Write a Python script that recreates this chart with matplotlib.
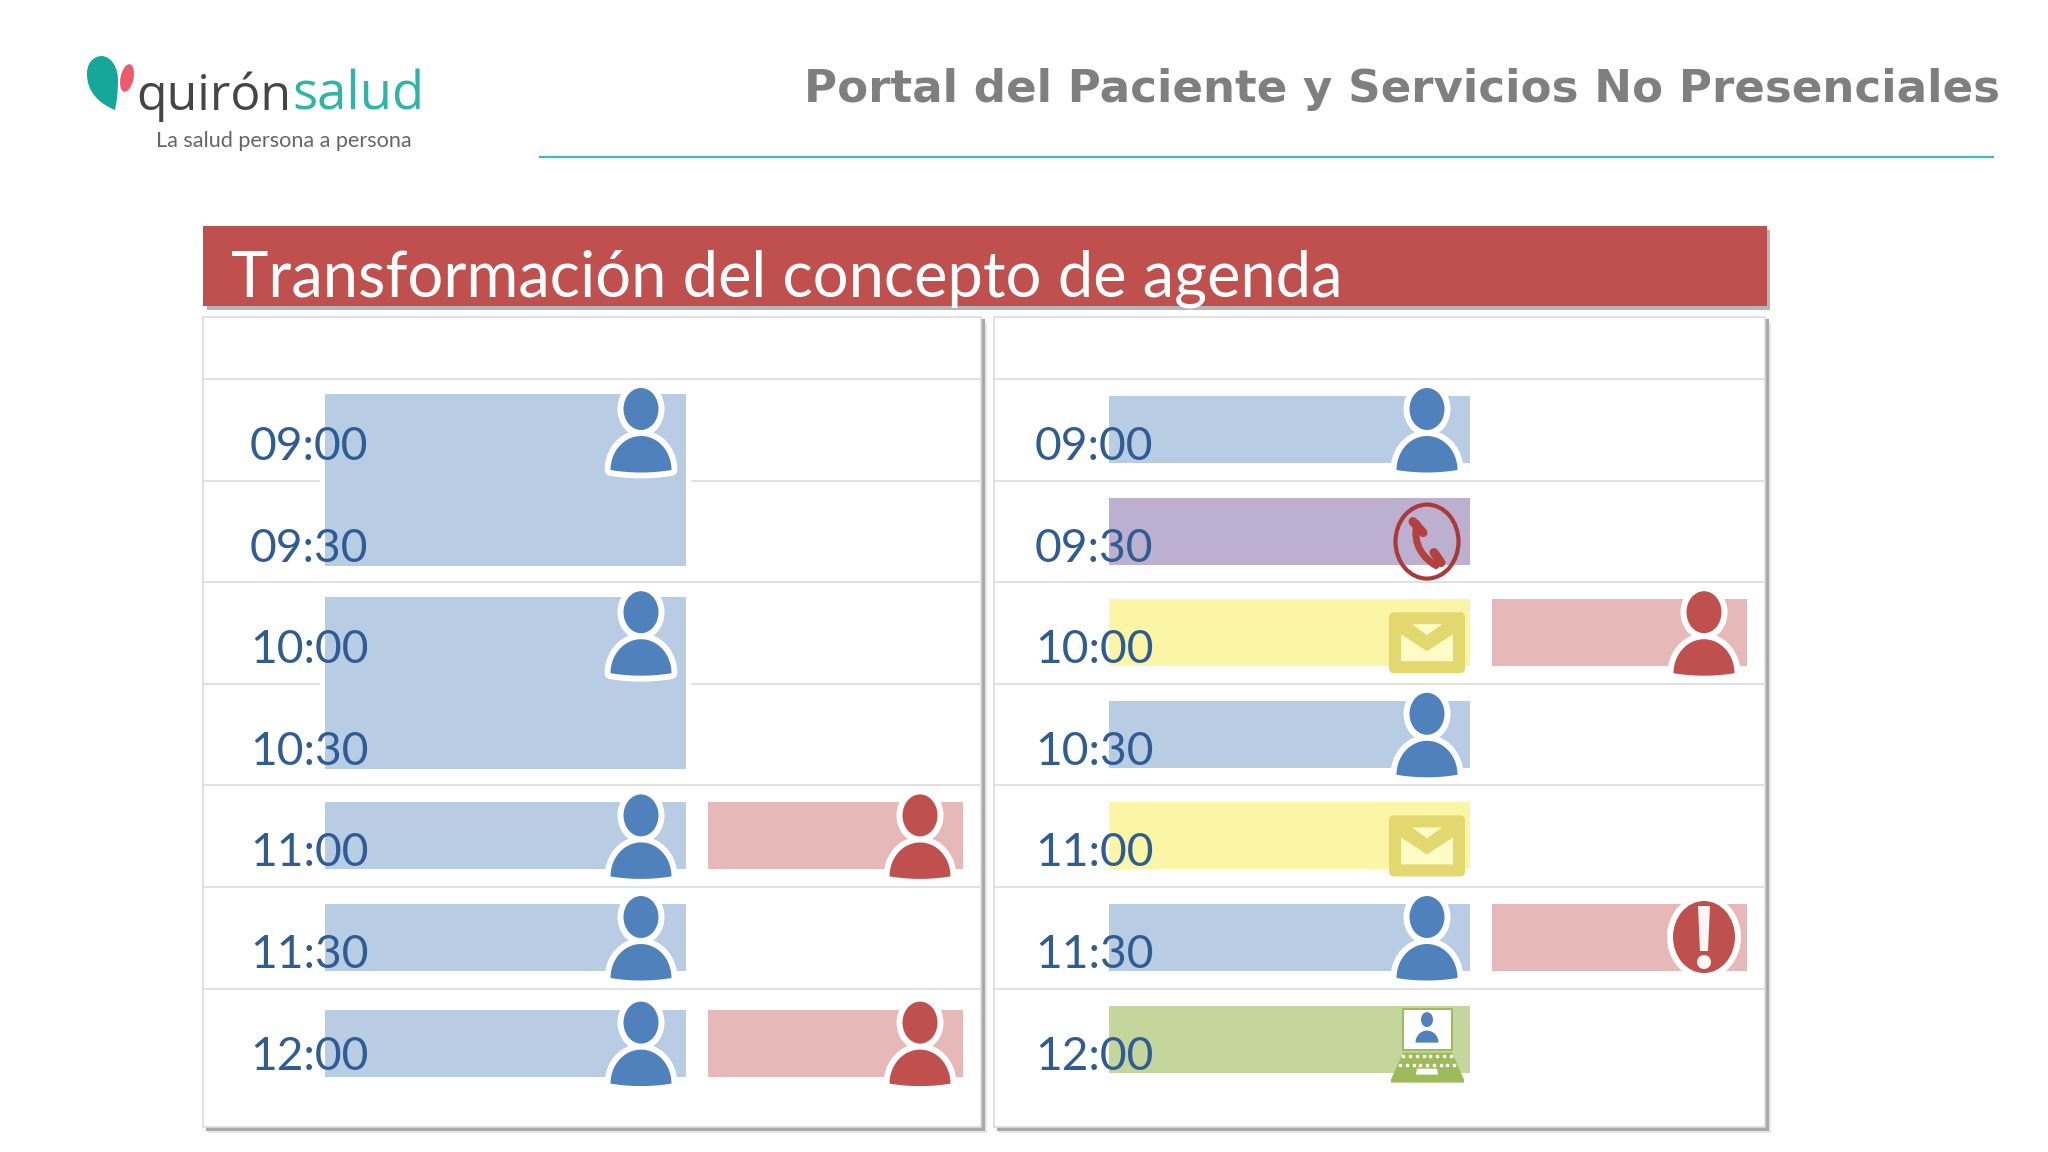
#!/usr/bin/env python3

import matplotlib
matplotlib.use('Agg')
import matplotlib.pyplot as plt
import numpy as np
from matplotlib.patches import Ellipse, FancyBboxPatch, PathPatch, Polygon, Rectangle
from matplotlib.path import Path

times = ['09:00', '09:30', '10:00', '10:30', '11:00', '11:30', '12:00']

# left agenda: long visits take two slots
left_main_start = [0, 2, 4, 5, 6]
left_main_len = [2, 2, 1, 1, 1]
left_extra_slots = [4, 6]

# right agenda: one slot each, by channel
right_main_slots = [0, 1, 2, 3, 4, 5, 6]
right_main_kinds = ['person', 'phone', 'mail', 'person', 'mail', 'person', 'video']
right_extra_slots = [2, 5]
right_extra_kinds = ['person', 'alert']

BLUE = '#4f81bd'
RED = '#c0504d'
bar_colors = {'person': '#b8cce4', 'phone': '#bcafd0', 'mail': '#fbf5a6', 'video': '#c5d69c'}
RED_BAR = '#e6b8b7'
GRID = '#dcdcdc'
SHADOW = '#a8a8a8'

ROW0 = 379
ROW_H = 101.6
BAR_OFF = 17
BAR_H = 67

fig = plt.figure(figsize=(20.48, 11.52), dpi=100)
ax = fig.add_axes([0, 0, 1, 1])
ax.set_xlim(0, 2048)
ax.set_ylim(1152, 0)
ax.axis('off')


def row_top(slot):
    return ROW0 + ROW_H * slot


def draw_panel(x0, x1, time_x):
    top, bottom = 317, 1127
    ax.add_patch(Rectangle((x0 + 5, top + 5), x1 - x0 + 1, bottom - top + 1, color='#e6e6e6', lw=0, zorder=0.5))
    ax.add_patch(Rectangle((x0 + 3, top + 2), x1 - x0 + 1, bottom - top + 2, color=SHADOW, lw=0, zorder=0.6))
    ax.add_patch(Rectangle((x0, top), x1 - x0, bottom - top, facecolor='white', edgecolor=GRID, lw=1.2, zorder=0.7))
    for i in range(len(times)):
        y = row_top(i)
        ax.plot([x0, x1], [y, y], color=GRID, lw=1.2, zorder=1)
        ax.text(time_x, y + 81, times[i], family='Lato', fontsize=33.2, color='#2f5d93',
                va='baseline', ha='left', zorder=6)


def draw_bar(x0, x1, slot, length, color, shift=0):
    y = row_top(slot) + BAR_OFF + shift
    h = BAR_H
    if length > 1:
        y -= 2
        h = BAR_H + ROW_H * (length - 1) + 3
    ax.bar(x0 - 5, h + 8, x1 - x0 + 10, bottom=y - 4, align='edge', color='white', lw=0, zorder=2)
    ax.bar(x0, h, x1 - x0, bottom=y, align='edge', color=color, lw=0, zorder=3)


def draw_person(cx, top, color):
    # dome body with a slightly rounded foot, white halo behind
    t = np.linspace(np.pi, 0, 40)
    foot = np.linspace(1, -1, 20)
    bx = np.r_[cx + 30.5 * np.cos(t), cx + 30.5 * foot]
    by = np.r_[top + 91 - 34 * np.sin(t), top + 91 + 2.5 * (1 - foot ** 2)]
    ax.add_patch(Polygon(np.c_[bx, by], closed=True, facecolor='white', edgecolor='white',
                         lw=8.5, joinstyle='round', zorder=7))
    ax.add_patch(Ellipse((cx, top + 30), 47, 55, facecolor='white', lw=0, zorder=7.1))
    ax.add_patch(Polygon(np.c_[bx, by], closed=True, facecolor=color, edgecolor='none', zorder=7.2))
    ax.add_patch(Ellipse((cx, top + 30), 35, 42, facecolor=color, lw=0, zorder=7.3))


def draw_phone(cx, top):
    cy = top + 61
    ax.add_patch(Ellipse((cx, cy), 63, 74, facecolor='none', edgecolor='#aa3a38', lw=3, zorder=7))
    verts = [(cx - 10, cy - 18), (cx - 15, cy + 3), (cx - 3, cy + 17), (cx + 9, cy + 24)]
    path = Path(verts, [Path.MOVETO, Path.CURVE4, Path.CURVE4, Path.CURVE4])
    ax.add_patch(PathPatch(path, facecolor='none', edgecolor='#b5413e', lw=5, capstyle='round', zorder=7.2))
    ax.plot([cx - 14, cx - 4], [cy - 20, cy - 9], color='#b5413e', lw=6.5, solid_capstyle='round', zorder=7.1)
    ax.plot([cx + 7, cx + 14], [cy + 11, cy + 21], color='#b5413e', lw=6.5, solid_capstyle='round', zorder=7.1)


def draw_mail(cx, top):
    y0 = top + 30
    ax.add_patch(FancyBboxPatch((cx - 35, y0 + 3), 70, 55, boxstyle='round,pad=3,rounding_size=5',
                                facecolor='#e3d86f', edgecolor='none', zorder=7))
    ax.add_patch(Polygon([(cx - 26, y0 + 22), (cx, y0 + 39), (cx + 26, y0 + 22), (cx + 26, y0 + 49),
                          (cx - 26, y0 + 49)], closed=True, facecolor='#fdfcc6', edgecolor='none', zorder=7.2))
    ax.add_patch(Polygon([(cx - 15, y0 + 12), (cx + 15, y0 + 12), (cx, y0 + 23)], closed=True,
                         facecolor='#fdfcc6', edgecolor='none', zorder=7.2))


def draw_laptop(cx, top):
    green = '#9dbb5a'
    ax.add_patch(Rectangle((cx - 25, top + 19), 51, 43, facecolor=green, lw=0, zorder=7))
    ax.add_patch(Rectangle((cx - 23, top + 21), 47, 39, facecolor='white', lw=0, zorder=7.1))
    ax.add_patch(Polygon([(cx - 24, top + 64), (cx + 25, top + 64), (cx + 37, top + 91), (cx + 37, top + 94),
                          (cx - 36, top + 94), (cx - 36, top + 91)], closed=True, facecolor=green, lw=0, zorder=7))
    dots = np.linspace(-24, 24, 8)
    ax.plot(cx + dots, np.full(8, top + 67.0), ls='none', marker='s', ms=1.6, color='white', zorder=7.2)
    dots = np.linspace(-27, 27, 9)
    ax.plot(cx + dots, np.full(9, top + 76.0), ls='none', marker='s', ms=2, color='white', zorder=7.2)
    ax.add_patch(Polygon([(cx - 10, top + 80), (cx + 10, top + 80), (cx + 11, top + 86), (cx - 11, top + 86)],
                         closed=True, facecolor='white', lw=0, zorder=7.2))
    ax.add_patch(Ellipse((cx, top + 31), 12, 15, facecolor=BLUE, lw=0, zorder=7.3))
    t = np.linspace(np.pi, 0, 30)
    ax.add_patch(Polygon(np.c_[cx + 11.5 * np.cos(t), top + 54 - 12 * np.sin(t)], closed=True,
                         facecolor=BLUE, lw=0, zorder=7.3))


def draw_alert(cx, top):
    cy = top + 50
    ax.add_patch(Ellipse((cx, cy), 74, 84, facecolor='white', lw=0, zorder=7))
    ax.add_patch(Ellipse((cx, cy), 62, 72, facecolor=RED, lw=0, zorder=7.1))
    ax.add_patch(Polygon([(cx - 6, cy - 31), (cx + 6, cy - 31), (cx + 4, cy + 14), (cx - 4, cy + 14)],
                         closed=True, facecolor='#fdf6f4', lw=0, zorder=7.2))
    ax.add_patch(Ellipse((cx, cy + 25), 14, 14, facecolor='#fdf6f4', lw=0, zorder=7.2))


def draw_icon(kind, cx, slot, color=BLUE, shift=0):
    top = row_top(slot) + shift
    if kind == 'person':
        draw_person(cx, top, color)
    elif kind == 'phone':
        draw_phone(cx, top)
    elif kind == 'mail':
        draw_mail(cx, top)
    elif kind == 'video':
        draw_laptop(cx, top)
    elif kind == 'alert':
        draw_alert(cx, top)


# header
ax.text(804, 102, 'Portal del Paciente y Servicios No Presenciales', family='DejaVu Sans', fontweight='bold',
        fontsize=32.5, color='#7f7f7f', va='baseline', ha='left')
ax.plot([540, 1993], [157, 157], color='#3cbdb0', lw=1.6)

# logo
leaf = Path([(115, 110), (100, 104), (86, 92), (87, 72), (88, 60), (96, 56), (102, 56), (112, 57), (118, 68),
             (118, 80), (118, 92), (117, 100), (115, 110)],
            [Path.MOVETO] + [Path.CURVE4] * 12)
ax.add_patch(PathPatch(leaf, facecolor='#14a79a', edgecolor='none'))
ax.add_patch(Ellipse((127, 78), 13, 28, angle=12, facecolor='#ee5a6d', edgecolor='none'))
ax.text(136, 110, 'quirón', family='Open Sans', fontsize=36, color='#454545', va='baseline', ha='left')
ax.text(292, 110, 'salud', family='Open Sans', fontsize=38, color='#2fb5a8', va='baseline', ha='left')
ax.text(156, 147, 'La salud persona a persona', family='Lato', fontsize=15.6, color='#666666',
        va='baseline', ha='left')

# banner
ax.add_patch(Rectangle((207, 230), 1563, 80, color='#b5b5b5', lw=0, zorder=0.5))
ax.add_patch(Rectangle((203, 226), 1564, 80, color=RED, lw=0, zorder=1))
ax.text(231, 296, 'Transformación del concepto de agenda', family='Lato', fontsize=45.5, color='white',
        va='baseline', ha='left', zorder=2)

# left agenda
draw_panel(203, 981, 250)
for s, n in zip(left_main_start, left_main_len):
    shift = 4 if s == 6 else 0
    draw_bar(325, 686, s, n, bar_colors['person'], shift)
    draw_icon('person', 641, s, shift=shift)
for s in left_extra_slots:
    shift = 4 if s == 6 else 0
    draw_bar(708, 963, s, 1, RED_BAR, shift)
    draw_icon('person', 920, s, RED, shift=shift)

# right agenda
draw_panel(994, 1765, 1035)
for s, k in zip(right_main_slots, right_main_kinds):
    draw_bar(1109, 1470, s, 1, bar_colors[k])
    draw_icon(k, 1427, s)
for s, k in zip(right_extra_slots, right_extra_kinds):
    draw_bar(1492, 1747, s, 1, RED_BAR)
    draw_icon(k, 1704, s, RED)

fig.savefig('out.png', dpi=100, facecolor='white')
